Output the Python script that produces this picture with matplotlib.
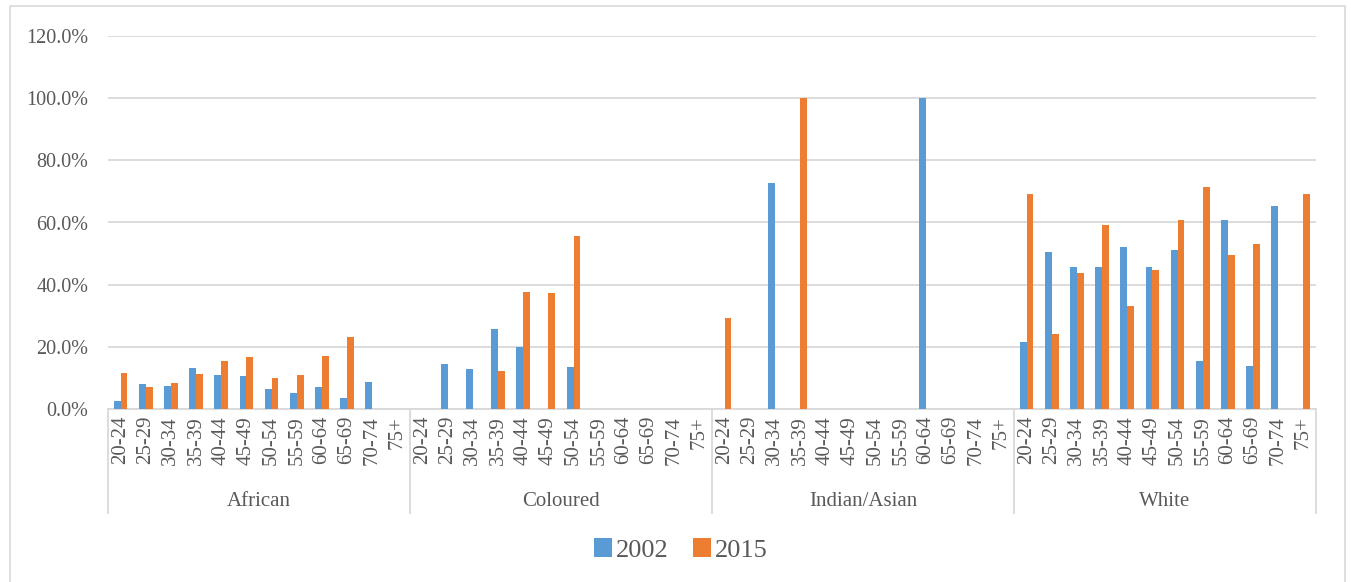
import numpy as np
import matplotlib
matplotlib.use("Agg")
import matplotlib.pyplot as plt
from matplotlib.patches import Rectangle
from matplotlib.lines import Line2D
import matplotlib.transforms as mtransforms

# data
groups = ["African", "Coloured", "Indian/Asian", "White"]
age_bands = ["20-24", "25-29", "30-34", "35-39", "40-44", "45-49",
             "50-54", "55-59", "60-64", "65-69", "70-74", "75+"]

# share in percent, one list per population group
african_2002 = [2.6, 8.2, 7.5, 13.1, 11.0, 10.6, 6.5, 5.3, 7.0, 3.6, 8.8, 0]
african_2015 = [11.6, 7.1, 8.4, 11.3, 15.5, 16.7, 9.9, 11.0, 17.1, 23.3, 0, 0]
coloured_2002 = [0, 14.5, 13.0, 25.7, 19.9, 0, 13.4, 0, 0, 0, 0, 0]
coloured_2015 = [0, 0, 0, 12.1, 37.8, 37.2, 55.6, 0, 0, 0, 0, 0]
indian_2002 = [0, 0, 72.7, 0, 0, 0, 0, 0, 100.0, 0, 0, 0]
indian_2015 = [29.3, 0, 0, 100.0, 0, 0, 0, 0, 0, 0, 0, 0]
white_2002 = [21.4, 50.6, 45.7, 45.7, 52.2, 45.8, 51.3, 15.5, 60.7, 13.9, 65.4, 0]
white_2015 = [69.3, 24.1, 43.9, 59.2, 33.0, 44.6, 60.7, 71.4, 49.4, 53.2, 0, 69.3]

series_2002 = african_2002 + coloured_2002 + indian_2002 + white_2002
series_2015 = african_2015 + coloured_2015 + indian_2015 + white_2015

BLUE = "#5B9BD5"
ORANGE = "#ED7D31"
TEXT = "#595959"
GRID = "#D9D9D9"

W, H = 1351, 582
plt.rcParams["font.family"] = ["Liberation Serif", "DejaVu Serif"]

fig = plt.figure(figsize=(W / 100, H / 100), dpi=100)

# outer chart border (bottom edge lies below the image)
fig.add_artist(Rectangle((10 / W, -0.05), (1345 - 10) / W, (H - 6) / H + 0.05,
                         transform=fig.transFigure, fill=False,
                         edgecolor=GRID, linewidth=1.2))

left, right, top, bottom = 108, 1316, 36, 409
ax = fig.add_axes([left / W, (H - bottom) / H,
                   (right - left) / W, (bottom - top) / H])

n = len(series_2002)
x = np.arange(n)
bw = 0.27
ax.bar(x - bw / 2, np.array(series_2002) / 100, width=bw, color=BLUE,
       label="2002", zorder=3)
ax.bar(x + bw / 2, np.array(series_2015) / 100, width=bw, color=ORANGE,
       label="2015", zorder=3)

ax.set_xlim(-0.5, n - 0.5)
ax.set_ylim(0, 1.2)
ax.set_yticks(np.arange(0, 1.21, 0.2))
ax.set_yticklabels([f"{v * 100:.1f}%" for v in np.arange(0, 1.21, 0.2)],
                   fontsize=14.5, color=TEXT)
ax.yaxis.grid(True, color=GRID, linewidth=1.3, zorder=0)
ax.tick_params(axis="y", length=0, pad=14)

ax.set_xticks(x)
ax.set_xticklabels(age_bands * len(groups), rotation=90, fontsize=15,
                   color=TEXT, va="top")
ax.tick_params(axis="x", length=0, pad=5)

for side in ["top", "right", "left"]:
    ax.spines[side].set_visible(False)
ax.spines["bottom"].set_color(GRID)
ax.spines["bottom"].set_linewidth(1.3)

# group separators and group labels below the age bands
trans = mtransforms.blended_transform_factory(ax.transData, ax.transAxes)
sep_bottom = -(513 - bottom) / (bottom - top)
for k in range(len(groups) + 1):
    xs = k * len(age_bands) - 0.5
    ax.add_line(Line2D([xs, xs], [0, sep_bottom], transform=trans,
                       color=GRID, linewidth=1.3, clip_on=False))
label_y = -(501 - bottom) / (bottom - top)
for k, g in enumerate(groups):
    xc = k * len(age_bands) + (len(age_bands) - 1) / 2
    ax.text(xc, label_y, g, transform=trans, ha="center", va="center",
            fontsize=15, color=TEXT)

leg = fig.legend(loc="center", bbox_to_anchor=(681 / W, (H - 550) / H),
                 ncol=2, frameon=False, fontsize=19, handlelength=0.7,
                 handleheight=0.7, handletextpad=0.15, columnspacing=0.9)
for t in leg.get_texts():
    t.set_color(TEXT)

fig.savefig("out.png", dpi=100)
